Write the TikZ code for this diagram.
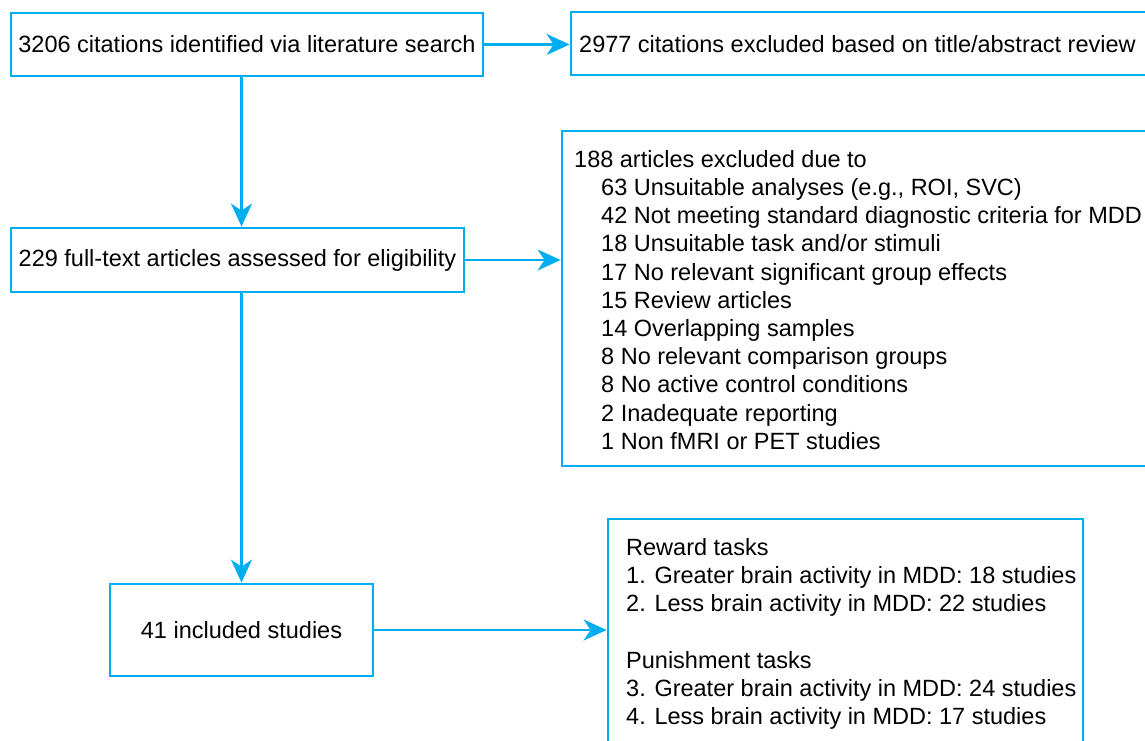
\documentclass[tikz,border=0pt]{standalone}
\usepackage{fontspec}
\setmainfont{Liberation Sans}
\usetikzlibrary{arrows.meta}
\definecolor{bl}{HTML}{00AEEF}
\begin{document}
\begin{tikzpicture}[x=1pt,y=-1pt,
  box/.style={draw=bl, line width=2.8pt, rectangle, inner sep=0pt, font=\fontsize{23.5}{28.2}\selectfont},
  txt/.style={inner sep=0pt, align=left, font=\fontsize{23.5}{28.2}\selectfont},
  arr/.style={draw=bl, line width=2.5pt, -{Stealth[length=23pt,width=21pt,inset=7pt]}}]
\useasboundingbox (0,0) rectangle (1145,741);
\clip (0,0) rectangle (1145,741);
\fill[white] (0,0) rectangle (1145,741);
\node[box, minimum width=472pt, minimum height=63pt] (a) at (247,44.5) {3206 citations identified via literature search};
\node[box, minimum width=604pt, minimum height=63pt] (b) at (873,43.5) {};
\node[txt, anchor=west] (bt) at (579,44) {2977 citations excluded based on title/abstract review};
\node[box, minimum width=453pt, minimum height=64pt] (c) at (237.5,260) {229 full-text articles assessed for eligibility};
\node[box, minimum width=613pt, minimum height=335pt] (d) at (868.5,298.5) {};
\node[txt, anchor=north west] (dt) at (574,150) {188 articles excluded due to\\
\hspace*{27pt}63 Unsuitable analyses (e.g., ROI, SVC)\\
\hspace*{27pt}42 Not meeting standard diagnostic criteria for MDD\\
\hspace*{27pt}18 Unsuitable task and/or stimuli\\
\hspace*{27pt}17 No relevant significant group effects\\
\hspace*{27pt}15 Review articles\\
\hspace*{27pt}14 Overlapping samples\\
\hspace*{27pt}8 No relevant comparison groups\\
\hspace*{27pt}8 No active control conditions\\
\hspace*{27pt}2 Inadequate reporting\\
\hspace*{27pt}1 Non fMRI or PET studies};
\node[box, minimum width=263pt, minimum height=92pt] (e) at (241.5,630) {41 included studies};
\node[box, minimum width=475pt, minimum height=261pt] (f) at (845.5,649.5) {};
\node[txt, anchor=north west] (ft) at (626,538) {Reward tasks\\
1. Greater brain activity in MDD: 18 studies\\
2. Less brain activity in MDD: 22 studies\\[28.2pt]
Punishment tasks\\
3. Greater brain activity in MDD: 24 studies\\
4. Less brain activity in MDD: 17 studies};
\draw[arr] (a.east) -- (a.east -| b.west);
\draw[arr] (c.east) -- (c.east -| d.west);
\draw[arr] (e.east) -- (e.east -| f.west);
\draw[arr] (a.south -| e.north) -- (c.north -| e.north);
\draw[arr] (c.south -| e.north) -- (e.north);
\end{tikzpicture}
\end{document}
